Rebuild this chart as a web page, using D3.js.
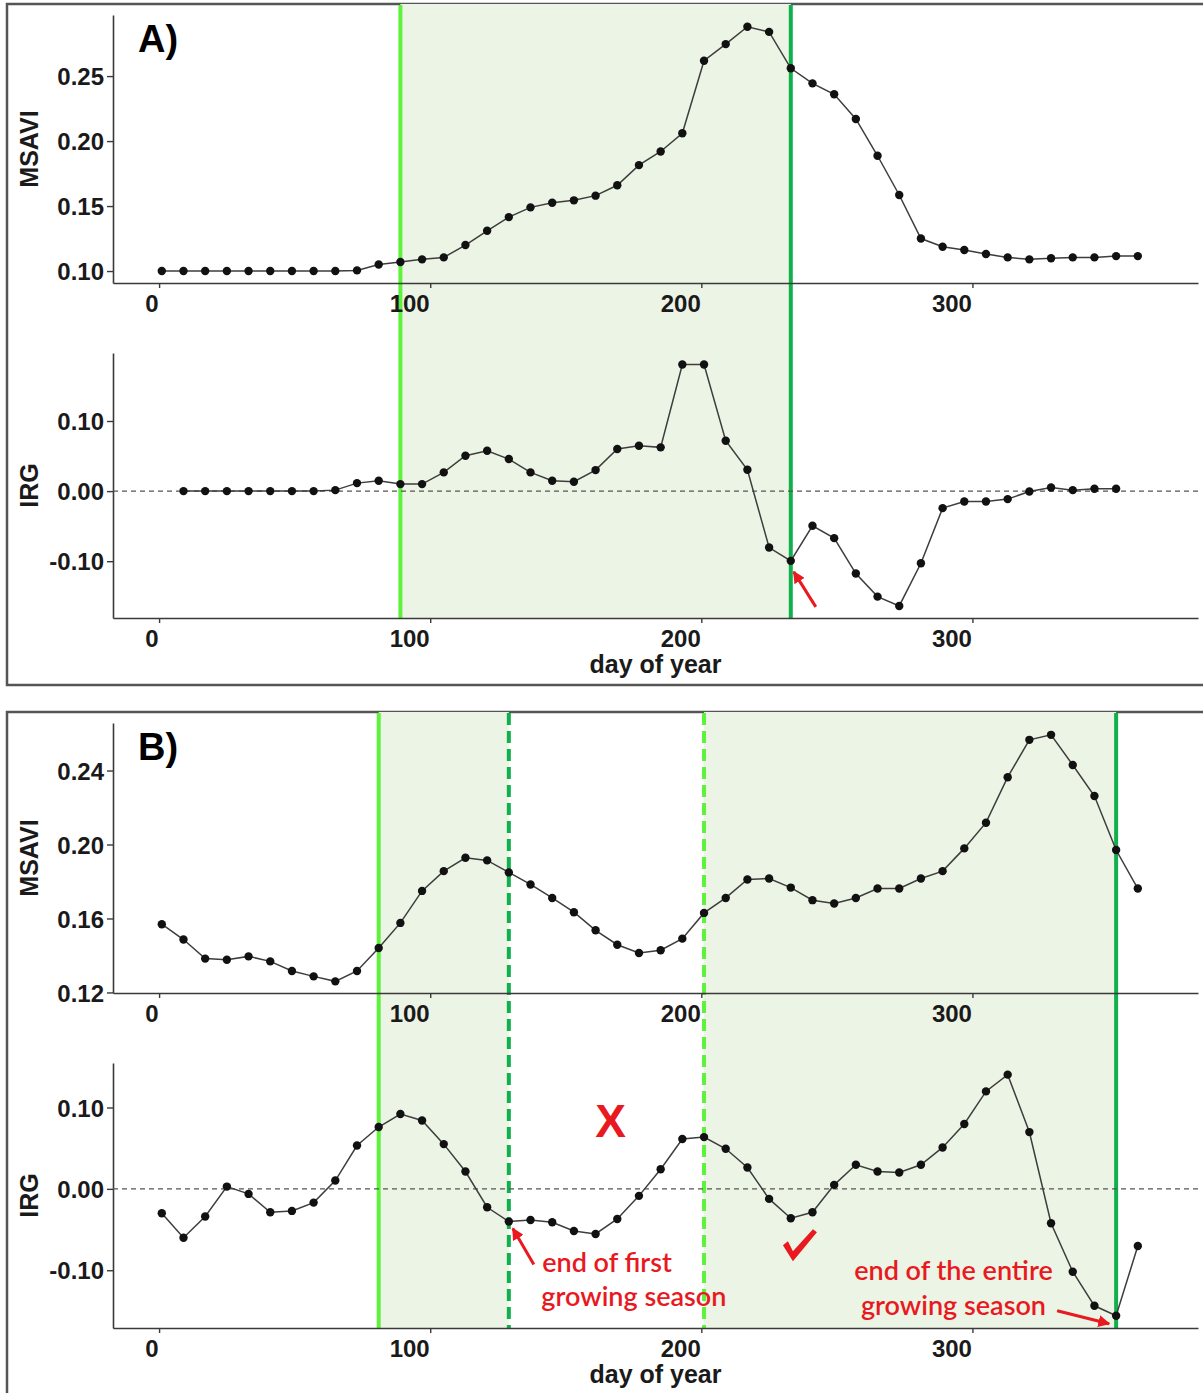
<!DOCTYPE html>
<html>
<head>
<meta charset="utf-8">
<script src="https://cdn.jsdelivr.net/npm/d3@7"></script>
<style>
  body { margin: 0; background: #fff; }
  .tick-label { font-family: "Liberation Sans", Arial, sans-serif; font-weight: bold; font-size: 24px; fill: #1a1a1a; }
  .axis-title { font-family: "Liberation Sans", Arial, sans-serif; font-weight: bold; font-size: 25px; fill: #1a1a1a; }
  .panel-label { font-family: "Liberation Sans", Arial, sans-serif; font-weight: bold; font-size: 38px; fill: #000; }
  .note { font-family: Lato, "Open Sans", sans-serif; font-size: 27px; font-weight: 600; fill: #e8191f; }
</style>
</head>
<body>
<div id="chart"></div>
<script>
// 8-day composites, day of year
const days = [1, 9, 17, 25, 33, 41, 49, 57, 65, 73, 81, 89, 97, 105, 113, 121, 129, 137, 145, 153,
    161, 169, 177, 185, 193, 201, 209, 217, 225, 233, 241, 249, 257, 265, 273, 281, 289, 297, 305, 313,
    321, 329, 337, 345, 353, 361];
const daysIrgA = [9, 17, 25, 33, 41, 49, 57, 65, 73, 81, 89, 97, 105, 113, 121, 129, 137, 145, 153,
    161, 169, 177, 185, 193, 201, 209, 217, 225, 233, 241, 249, 257, 265, 273, 281, 289, 297, 305, 313,
    321, 329, 337, 345, 353];

// Panel A
const msaviA = [0.100, 0.100, 0.100, 0.100, 0.100, 0.100, 0.100, 0.100, 0.100, 0.1005, 0.105, 0.107, 0.109, 0.1105,
    0.120, 0.131, 0.1415, 0.149, 0.1526, 0.1544, 0.158, 0.166, 0.1815, 0.192, 0.206, 0.2618, 0.2746, 0.288, 0.284,
    0.256, 0.2444, 0.236, 0.217, 0.1887, 0.1585, 0.125, 0.1187, 0.1162, 0.1131, 0.1105, 0.109, 0.1098, 0.1105,
    0.1105, 0.1115, 0.1115];
const irgA = [0.000, 0.000, 0.000, 0.000, 0.000, 0.000, 0.000, 0.0014, 0.0114, 0.0148, 0.010, 0.010, 0.0267,
    0.0505, 0.0576, 0.0457, 0.0267, 0.0148, 0.0133, 0.030, 0.060, 0.0648, 0.0624, 0.1805, 0.1805, 0.0719, 0.0305,
    -0.0805, -0.0995, -0.0495, -0.0671, -0.1176, -0.1505, -0.1638, -0.1029, -0.0243, -0.0148, -0.0148, -0.0114,
    -0.0005, 0.0052, 0.0014, 0.0033, 0.0033];

// Panel B
const msaviB = [0.1569, 0.1486, 0.1383, 0.1377, 0.1395, 0.1368, 0.1316, 0.1287, 0.126, 0.1316, 0.144, 0.1576,
    0.1749, 0.1856, 0.1928, 0.1914, 0.1849, 0.1784, 0.1711, 0.1634, 0.1536, 0.1458, 0.1413, 0.1428, 0.1491, 0.163,
    0.1711, 0.1811, 0.1816, 0.1767, 0.1699, 0.1681, 0.1711, 0.1762, 0.1762, 0.1816, 0.1856, 0.1979, 0.2118,
    0.2364, 0.2566, 0.2593, 0.243, 0.2262, 0.197, 0.1762];
const irgB = [-0.030, -0.060, -0.034, 0.0028, -0.0062, -0.0287, -0.0271, -0.0169, 0.0102, 0.0533, 0.076, 0.092,
    0.0841, 0.055, 0.0213, -0.0226, -0.0402, -0.0382, -0.041, -0.0517, -0.0554, -0.037, -0.0086, 0.0242, 0.0612,
    0.0636, 0.0493, 0.0263, -0.0123, -0.0361, -0.0287, 0.0049, 0.0296, 0.0213, 0.0201, 0.0296, 0.0509, 0.0797,
    0.1198, 0.1404, 0.0698, -0.0423, -0.1018, -0.1437, -0.156, -0.0702];

// tick labels
const xTicks = [0, 100, 200, 300];
const msaviTicksA = [0.10, 0.15, 0.20, 0.25];
const msaviTicksB = [0.12, 0.16, 0.20, 0.24];
const irgTicks = [-0.10, 0.00, 0.10];

// growing season markers (day of year)
const seasonA = [89, 233];
const seasonB = [81, 129, 201, 353];

const lightGreen = '#5ef23c';
const darkGreen = '#10b04c';
const red = '#e8191f';

const svg = d3.select('#chart').append('svg')
    .attr('width', 1203)
    .attr('height', 1393);

svg.append('defs').append('marker')
    .attr('id', 'arrow-head')
    .attr('viewBox', '0 0 10 10')
    .attr('refX', 9).attr('refY', 5)
    .attr('markerWidth', 4).attr('markerHeight', 4)
    .attr('markerUnits', 'strokeWidth')
    .attr('orient', 'auto')
    .append('path')
    .attr('d', 'M0,0 L10,5 L0,10 Z')
    .attr('fill', red);

// shared day-of-year scale
const xScale = d3.scaleLinear().domain([-17, 383.2]).range([113, 1198]);

class SeriesPlot {

    constructor(_config, _days, _values) {
        this.config = {
            parent: _config.parent,
            top: _config.top,
            bottom: _config.bottom,
            domain: _config.domain,
            ticks: _config.ticks,
            yTitle: _config.yTitle,
            zeroLine: _config.zeroLine || false,
            xTitle: _config.xTitle || null
        };
        this.days = _days;
        this.values = _values;
        this.initVis();
    }

    initVis() {
        let vis = this;

        vis.yScale = d3.scaleLinear()
            .domain(vis.config.domain)
            .range([vis.config.bottom, vis.config.top]);

        vis.g = vis.config.parent.append('g');

        // y axis
        vis.yAxis = d3.axisLeft(vis.yScale)
            .tickValues(vis.config.ticks)
            .tickFormat(d => d.toFixed(2))
            .tickSize(6)
            .tickSizeOuter(0)
            .tickPadding(3);

        vis.yAxisG = vis.g.append('g')
            .attr('transform', `translate(${xScale.range()[0]},0)`)
            .call(vis.yAxis);

        // x axis, labels sit to the left of their ticks like in the original figure
        vis.xAxis = d3.axisBottom(xScale)
            .tickValues(xTicks)
            .tickSize(5)
            .tickSizeOuter(0);

        vis.xAxisG = vis.g.append('g')
            .attr('transform', `translate(0,${vis.config.bottom})`)
            .call(vis.xAxis);

        vis.xAxisG.selectAll('text')
            .attr('class', 'tick-label')
            .attr('text-anchor', 'end')
            .attr('x', -1)
            .attr('y', 29)
            .attr('dy', null);

        vis.yAxisG.selectAll('text').attr('class', 'tick-label').attr('dy', '0.36em');

        [vis.xAxisG, vis.yAxisG].forEach(a => {
            a.select('.domain').attr('stroke', '#3a3a3a').attr('stroke-width', 1.6);
            a.selectAll('.tick line').attr('stroke', '#3a3a3a').attr('stroke-width', 1.4);
        });

        vis.g.append('text')
            .attr('class', 'axis-title')
            .attr('text-anchor', 'middle')
            .attr('transform', `translate(38,${(vis.config.top + vis.config.bottom) / 2}) rotate(-90)`)
            .text(vis.config.yTitle);

        if (vis.config.xTitle) {
            vis.g.append('text')
                .attr('class', 'axis-title')
                .attr('text-anchor', 'middle')
                .attr('x', (xScale.range()[0] + xScale.range()[1]) / 2)
                .attr('y', vis.config.bottom + 55)
                .text(vis.config.xTitle);
        }

        vis.renderVis();
    }

    renderVis() {
        let vis = this;
        const data = vis.days.map((d, i) => ({day: d, value: vis.values[i]}));

        if (vis.config.zeroLine) {
            vis.g.append('line')
                .attr('x1', xScale.range()[0])
                .attr('x2', xScale.range()[1])
                .attr('y1', vis.yScale(0))
                .attr('y2', vis.yScale(0))
                .attr('stroke', '#555')
                .attr('stroke-width', 1.3)
                .attr('stroke-dasharray', '5,4');
        }

        const line = d3.line()
            .x(d => xScale(d.day))
            .y(d => vis.yScale(d.value));

        vis.g.append('path')
            .datum(data)
            .attr('d', line)
            .attr('fill', 'none')
            .attr('stroke', '#3d3d3d')
            .attr('stroke-width', 1.5);

        vis.g.selectAll('.pt')
            .data(data)
            .join('circle')
            .attr('class', 'pt')
            .attr('cx', d => xScale(d.day))
            .attr('cy', d => vis.yScale(d.value))
            .attr('r', 4.2)
            .attr('fill', '#111');
    }
}

function drawPanel(cfg) {
    const g = svg.append('g');

    // frame (open on the right, runs off the picture)
    g.append('rect')
        .attr('x', 7).attr('y', cfg.frameTop)
        .attr('width', 1220).attr('height', cfg.frameBottom - cfg.frameTop)
        .attr('fill', '#fff')
        .attr('stroke', '#555')
        .attr('stroke-width', 2.5);

    g.selectAll('.shade')
        .data(cfg.shades)
        .join('rect')
        .attr('class', 'shade')
        .attr('x', d => xScale(d[0]))
        .attr('width', d => xScale(d[1]) - xScale(d[0]))
        .attr('y', cfg.frameTop)
        .attr('height', cfg.shadeBottom - cfg.frameTop)
        .attr('fill', '#ecf4e5');

    // season boundaries
    g.append('g').selectAll('line')
        .data(cfg.markers)
        .join('line')
        .attr('x1', d => xScale(d.day))
        .attr('x2', d => xScale(d.day))
        .attr('y1', cfg.frameTop + 1)
        .attr('y2', cfg.shadeBottom)
        .attr('stroke', d => d.color)
        .attr('stroke-width', 4)
        .attr('stroke-dasharray', d => d.dashed ? '12,6' : null);

    const plots = cfg.plots.map(p => new SeriesPlot(Object.assign({parent: g}, p), p.days, p.values));

    g.append('text')
        .attr('class', 'panel-label')
        .attr('x', 138)
        .attr('y', cfg.labelY)
        .text(cfg.label);

    return plots;
}

const plotsA = drawPanel({
    frameTop: 4, frameBottom: 685, shadeBottom: 618, label: 'A)', labelY: 52,
    shades: [[seasonA[0], seasonA[1]]],
    markers: [{day: seasonA[0], color: lightGreen}, {day: seasonA[1], color: darkGreen}],
    plots: [
        {top: 15, bottom: 283, domain: [0.0908, 0.297], ticks: msaviTicksA, yTitle: 'MSAVI', days: days, values: msaviA},
        {top: 353, bottom: 618, domain: [-0.181, 0.197], ticks: irgTicks, yTitle: 'IRG', zeroLine: true,
            xTitle: 'day of year', days: daysIrgA, values: irgA}
    ]
});

const plotsB = drawPanel({
    frameTop: 712, frameBottom: 1420, shadeBottom: 1328, label: 'B)', labelY: 760,
    shades: [[seasonB[0], seasonB[1]], [seasonB[2], seasonB[3]]],
    markers: [
        {day: seasonB[0], color: lightGreen},
        {day: seasonB[1], color: darkGreen, dashed: true},
        {day: seasonB[2], color: lightGreen, dashed: true},
        {day: seasonB[3], color: darkGreen}
    ],
    plots: [
        {top: 723, bottom: 993, domain: [0.1197, 0.2657], ticks: msaviTicksB, yTitle: 'MSAVI', days: days, values: msaviB},
        {top: 1063, bottom: 1328, domain: [-0.171, 0.1547], ticks: irgTicks, yTitle: 'IRG', zeroLine: true,
            xTitle: 'day of year', days: days, values: irgB}
    ]
});

// red annotations, anchored to the IRG panels
function arrow(plot, day, value, tip, tail) {
    const px = xScale(day) + tip[0], py = plot.yScale(value) + tip[1];
    svg.append('line')
        .attr('x1', px + tail[0]).attr('y1', py + tail[1])
        .attr('x2', px).attr('y2', py)
        .attr('stroke', red)
        .attr('stroke-width', 3)
        .attr('marker-end', 'url(#arrow-head)');
}

const irgPlotA = plotsA[1], irgPlotB = plotsB[1];
arrow(irgPlotA, 233, -0.0995, [3, 11], [22, 35]);
arrow(irgPlotB, 129, -0.0402, [4, 7], [21, 36]);
arrow(irgPlotB, 353, -0.156, [-7, 8], [-52, -13]);

const notes = [
    {text: 'end of first', day: 141.3, value: -0.102, anchor: 'start'},
    {text: 'growing season', day: 141, value: -0.144, anchor: 'start'},
    {text: 'end of the entire', day: 293, value: -0.112, anchor: 'middle'},
    {text: 'growing season', day: 293, value: -0.155, anchor: 'middle'}
];

svg.selectAll('.note')
    .data(notes)
    .join('text')
    .attr('class', 'note')
    .attr('x', d => xScale(d.day))
    .attr('y', d => irgPlotB.yScale(d.value))
    .attr('text-anchor', d => d.anchor)
    .text(d => d.text);

svg.append('text')
    .attr('x', xScale(166.5))
    .attr('y', irgPlotB.yScale(0.064))
    .attr('text-anchor', 'middle')
    .attr('font-family', 'Liberation Sans, Arial, sans-serif')
    .attr('font-weight', 'bold')
    .attr('font-size', 46)
    .attr('fill', red)
    .text('X');

// check mark
const cx = xScale(236), cy = irgPlotB.yScale(-0.0876);
svg.append('path')
    .attr('d', `M${cx - 16},${cy - 15} L${cx - 11},${cy - 19} L${cx - 6},${cy - 9} L${cx + 14},${cy - 31} ` +
        `L${cx + 18},${cy - 28} L${cx - 6},${cy + 1} Z`)
    .attr('fill', red);
</script>
</body>
</html>
